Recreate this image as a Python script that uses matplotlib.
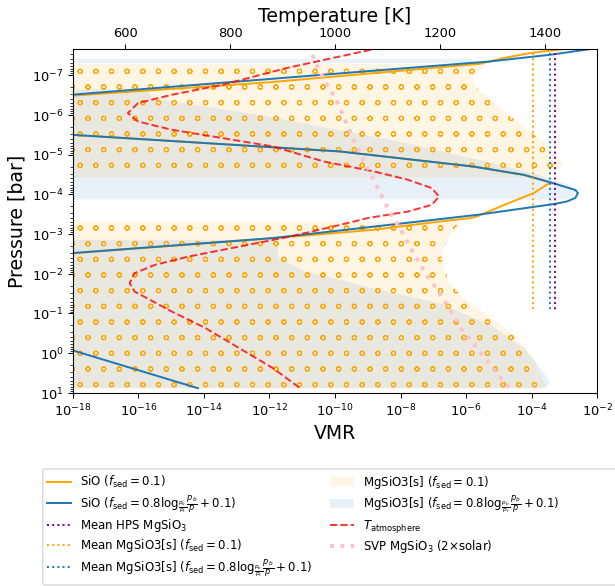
"""SiO / MgSiO3 cloud profiles against pressure, with the T-p profile on a twin axis."""
import matplotlib
matplotlib.use("Agg")
import matplotlib.hatch as mhatch
import matplotlib.pyplot as plt
import numpy as np
from matplotlib.patches import FancyBboxPatch
from matplotlib.ticker import FixedLocator, LogLocator, NullLocator
from matplotlib.transforms import IdentityTransform

DPI = 94
W_PX, H_PX = 615, 586
# drawn on a slightly larger canvas and trimmed, which sets where the hatch grid lands
PAD_L, PAD_T = 6, 7
CW, CH = W_PX + PAD_L, H_PX + PAD_T
plt.rcParams["hatch.linewidth"] = 0.8


class SmallRings(mhatch.Circles):
    """'o' hatch with smaller rings than the stock pattern."""
    size = 0.14

    def __init__(self, hatch, density):
        self.num_rows = hatch.count("o") * density
        super().__init__(hatch, density)


mhatch._hatch_types = [SmallRings if t is mhatch.SmallCircles else t
                       for t in mhatch._hatch_types]


def fig_x(px):
    return (px + PAD_L) / CW


def fig_y(py):
    return 1 - (py + PAD_T) / CH


# ---------------------------------------------------------------------------
# gas-phase SiO, two sedimentation set-ups
# ---------------------------------------------------------------------------
sio_p_fsed01 = [2.0e-8, 2.2e-8, 2.77e-8, 3.72e-8, 5.16e-8, 1.49e-7, 3.30e-7, 4.47e-7,
                2.51e-6, 3.17e-6, 5.13e-6, 8.32e-6, 2.0e-5, 3.24e-5, 5.01e-5, 9.33e-5,
                2.03e-4, 3.62e-4, 3.98e-4, 4.84e-4, 7.83e-4, 1.09e-3, 1.27e-3, 3.09e-3,
                4.07e-3]
sio_vmr_fsed01 = [2.82e-3, 1.05e-3, 9.1e-5, 1.38e-5, 2.69e-6, 1.23e-12, 8.9e-19, 1e-20,
                  1e-20, 8.9e-19, 1.10e-14, 1.35e-10, 1.66e-6, 5.75e-5, 3.72e-4, 1.15e-4,
                  1.10e-5, 2.14e-6, 1.32e-6, 1.58e-7, 1.45e-9, 1.29e-11, 1.23e-12, 8.9e-19,
                  1e-20]

sio_p_fsedvar = [2.0e-8, 2.29e-8, 3.06e-8, 4.52e-8, 3.12e-7, 4.27e-7, 2.51e-6, 3.17e-6,
                 5.13e-6, 8.32e-6, 2.0e-5, 3.24e-5, 5.01e-5, 6.31e-5, 7.76e-5, 9.33e-5,
                 1.23e-4, 1.51e-4, 1.74e-4, 2.19e-4, 3.26e-4, 1.27e-3, 3.03e-3, 3.98e-3,
                 0.269, 0.826, 7.62]
sio_vmr_fsedvar = [1.26e-2, 4.47e-3, 3.72e-4, 5.37e-6, 8.9e-19, 1e-20, 1e-20, 8.9e-19,
                   1.10e-14, 1.35e-10, 1.66e-6, 5.75e-5, 3.72e-4, 9.33e-4, 2.14e-3, 2.57e-3,
                   2.14e-3, 1.20e-3, 5.25e-4, 7.24e-5, 2.4e-6, 1.23e-12, 8.9e-19, 1e-20,
                   1e-20, 8.9e-19, 6.6e-15]

# ---------------------------------------------------------------------------
# condensed MgSiO3[s]; 0.0 marks layers without cloud
# ---------------------------------------------------------------------------
cloud_p_fsed01 = [5.13e-8, 1.18e-7, 2.11e-7, 1.10e-6, 5.66e-6, 1.70e-5, 2.42e-5, 3.23e-5,
                  3.80e-5, 1.0e-4, 4.84e-4, 1.05e-3, 2.26e-3, 4.05e-3, 1.57e-2, 4.12e-2,
                  0.108, 0.346, 1.10, 3.52, 7.62]
cloud_vmr_fsed01 = [4.3e-6, 1.48e-6, 2.14e-6, 2.24e-5, 2.95e-4, 8.9e-4, 6.6e-4, 3.7e-4,
                    1.86e-4, 0.0, 6.6e-7, 3.24e-7, 2.0e-7, 1.78e-7, 2.88e-7, 8.3e-7,
                    4.27e-6, 2.82e-5, 1.02e-4, 1.86e-4, 2.95e-4]

cloud_p_fsedvar = [3.94e-8, 5.01e-8, 1.0e-7, 2.33e-7, 3.78e-7, 9.93e-7, 5.13e-6, 2.0e-5,
                   3.78e-5, 5.43e-5, 7.71e-5, 1.03e-4, 1.34e-4, 5.0e-4, 1.40e-3, 1.87e-3,
                   4.05e-3, 8.81e-3, 2.31e-2, 5.51e-2, 0.194, 0.748, 2.39, 5.70, 7.62]
cloud_vmr_fsedvar = [1.48e-6, 1.48e-6, 0.0, 2.0e-16, 2.57e-16, 4.79e-13, 1.51e-8, 1.78e-5,
                     2.95e-4, 1.15e-3, 2.14e-3, 2.0e-3, 1.15e-3, 0.0, 1.23e-12, 1.74e-12,
                     1.95e-12, 1.29e-11, 1.45e-9, 1.51e-7, 5.37e-6, 5.75e-5, 1.86e-4,
                     3.80e-4, 2.4e-4]

# column means, drawn over a fixed pressure span
mean_hps = 5.2e-4
mean_cloud_fsed01 = 1.06e-4
mean_cloud_fsedvar = 3.5e-4
mean_p_span = [2.7e-8, 8.9e-2]

# ---------------------------------------------------------------------------
# temperature structure (top axis)
# ---------------------------------------------------------------------------
t_atm_T = [1107, 1068.5, 907.6, 785.4, 688.8, 624.5, 605.1, 624.5, 688.8, 785.4, 881.9,
           978.4, 1075.0, 1139.3, 1184.4, 1198.5, 1184.4, 1139.3, 1062.1, 1010.6, 914.1,
           817.5, 721.0, 656.6, 618.0, 608.4, 618.0, 688.8, 753.2, 817.5, 881.9, 933.4]
t_atm_p = [1.78e-8, 2.29e-8, 6.62e-8, 1.75e-7, 3.12e-7, 5.05e-7, 9.02e-7, 1.47e-6, 2.37e-6,
           3.84e-6, 6.25e-6, 1.49e-5, 2.67e-5, 4.32e-5, 6.98e-5, 1.14e-4, 1.84e-4, 2.71e-4,
           3.97e-4, 5.86e-4, 1.16e-3, 2.07e-3, 3.69e-3, 5.97e-3, 9.66e-3, 1.73e-2, 2.81e-2,
           8.95e-2, 0.234, 0.748, 2.39, 7.62]

svp_T = [949, 952.7, 968.8, 984.9, 1004.2, 1020.3, 1036.4, 1055.7, 1075.0, 1094.3, 1110.4,
         1120.0, 1139.3, 1158.6, 1181.2, 1203.7, 1223.0, 1242.3, 1268.1, 1293.8, 1316.3,
         1332.4]
svp_p = [1.78e-8, 2.29e-8, 7.31e-8, 1.75e-7, 4.59e-7, 1.47e-6, 4.68e-6, 1.49e-5, 4.76e-5,
         1.52e-4, 3.97e-4, 5.86e-4, 1.69e-3, 4.93e-3, 1.43e-2, 3.75e-2, 9.82e-2, 0.259,
         0.682, 1.79, 4.27, 7.35]

temp_ticks = [600, 800, 1000, 1200, 1400]

FSED_VAR = r"$f_{\rm sed}=0.8\log_{\frac{p_b}{p_t}}\frac{p_b}{p}+0.1$"
FSED_01 = r"$f_{\rm sed}=0.1$"
VMR_FLOOR = 1e-30

fig = plt.figure(figsize=((CW + 0.3) / DPI, (CH + 0.3) / DPI), dpi=DPI)
ax = fig.add_axes([fig_x(72.7), fig_y(393), (597 - 72.7) / CW, (393 - 49.3) / CH])
ax.set_xscale("log")
ax.set_yscale("log")

# cloud shading
c01 = np.asarray(cloud_vmr_fsed01)
cvar = np.asarray(cloud_vmr_fsedvar)
f_a = ax.fill_betweenx(cloud_p_fsed01, VMR_FLOOR, c01, where=c01 > 0,
                       color="orange", alpha=0.1, lw=0)
f_b = ax.fill_betweenx(cloud_p_fsedvar, VMR_FLOOR, cvar, where=cvar > 0,
                       color="tab:blue", alpha=0.1, lw=0)
ax.fill_betweenx(cloud_p_fsed01, VMR_FLOOR, c01, where=c01 > 0,
                 facecolor="none", edgecolor="orange", hatch="o", lw=0)

l_a, = ax.plot(sio_vmr_fsed01, sio_p_fsed01, color="orange", lw=1.5)
l_b, = ax.plot(sio_vmr_fsedvar, sio_p_fsedvar, color="tab:blue", lw=1.5)
m_hps, = ax.plot([mean_hps] * 2, mean_p_span, ":", color="purple", lw=1.5)
m_a, = ax.plot([mean_cloud_fsed01] * 2, mean_p_span, ":", color="orange", lw=1.5)
m_b, = ax.plot([mean_cloud_fsedvar] * 2, mean_p_span, ":", color="tab:blue", lw=1.5)

ax.set_xlim(1e-18, 1e-2)
ax.set_ylim(10, 2.2e-8)
ax.xaxis.set_major_locator(FixedLocator(10.0 ** np.arange(-18, -1, 2)))
ax.xaxis.set_minor_locator(NullLocator())
ax.yaxis.set_major_locator(LogLocator(base=10, numticks=20))
ax.yaxis.set_minor_locator(LogLocator(base=10, subs=np.arange(2, 10), numticks=20))
ax.set_xlabel("VMR", fontsize=14.5)
ax.set_ylabel("Pressure [bar]", fontsize=14.5)

ax2 = ax.twiny()
t_line, = ax2.plot(t_atm_T, t_atm_p, "--", color="red", alpha=0.8, lw=1.5)
svp_line, = ax2.plot(svp_T, svp_p, ":", color="pink", lw=3)
ax2.set_xlim(500, 1500)
ax2.set_xticks(temp_ticks)
ax2.set_xlabel("Temperature [K]", fontsize=14.5)

handles = [l_a, l_b, m_hps, m_a, m_b, f_a, f_b, t_line, svp_line]
labels = [f"SiO ({FSED_01})", f"SiO ({FSED_VAR})", r"Mean HPS MgSiO$_3$",
          f"Mean MgSiO3[s] ({FSED_01})", f"Mean MgSiO3[s] ({FSED_VAR})",
          f"MgSiO3[s] ({FSED_01})", f"MgSiO3[s] ({FSED_VAR})",
          r"$T_{\rm atmosphere}$", r"SVP MgSiO$_3$ (2$\times$solar)"]
fig.legend(handles, labels, loc="upper left", ncol=2, fontsize=9, borderaxespad=0,
           labelspacing=0.25, columnspacing=1.5, frameon=False,
           bbox_to_anchor=(fig_x(42.7), fig_y(469)))

# legend frame runs on past the right edge of the canvas
frame = FancyBboxPatch((42.7 + PAD_L, 1.0), 620, 116,
                       boxstyle="round,pad=0,rounding_size=2.5",
                       transform=IdentityTransform(), facecolor="white", alpha=0.8,
                       edgecolor="0.8", lw=1.0, zorder=-1)
fig.patches.append(frame)

fig.canvas.draw()
img = np.asarray(fig.canvas.buffer_rgba())[PAD_T:PAD_T + H_PX, PAD_L:PAD_L + W_PX]
plt.imsave("out.png", img)
